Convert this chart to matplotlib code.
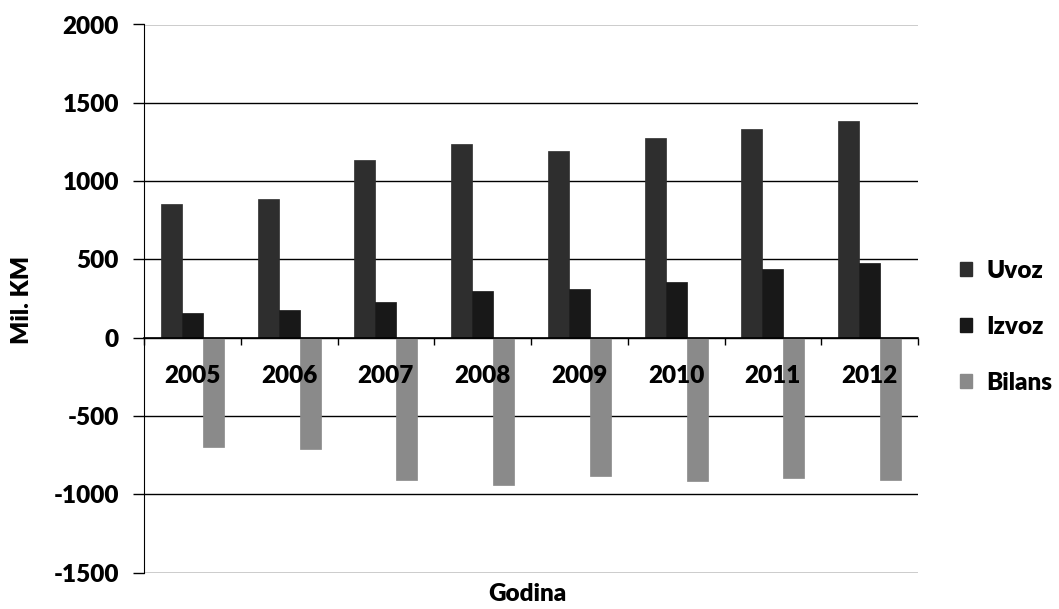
import matplotlib
matplotlib.use("Agg")
import matplotlib.pyplot as plt
import matplotlib.transforms as mtransforms
from matplotlib.patches import Patch
import numpy as np

years = ["2005", "2006", "2007", "2008", "2009", "2010", "2011", "2012"]
uvoz = [854, 888, 1133, 1234, 1194, 1276, 1335, 1386]
izvoz = [156, 177, 226, 297, 312, 359, 437, 475]
bilans = [-698, -711, -907, -937, -882, -917, -898, -911]
series_names = ["Uvoz", "Izvoz", "Bilans"]
yticks = [-1500, -1000, -500, 0, 500, 1000, 1500, 2000]

colors = ["#2e2e2e", "#181818", "#8a8a8a"]

FW = 'heavy'
plt.rcParams['font.family'] = ['Lato', 'DejaVu Sans']
plt.rcParams['font.weight'] = FW

fig = plt.figure(figsize=(10.59, 6.09), dpi=100)
ax = fig.add_axes([144/1059, 1-572.7/609, (918-144)/1059, (572.7-24.5)/609])

x = np.arange(len(years))
w = 0.217
for k, (vals, c) in enumerate(zip([uvoz, izvoz, bilans], colors)):
    ax.bar(x + (k-1)*w, vals, width=w, color=c, edgecolor=c, linewidth=0.5,
           label=series_names[k], zorder=2)

ax.set_xlim(-0.5, len(years)-0.5)
ax.set_ylim(-1500, 2000)
ax.set_yticks(yticks)
ax.set_yticklabels([str(v) for v in yticks], fontsize=17.5, fontweight=FW)
ax.set_axisbelow(True)
ax.yaxis.grid(True, color='black', linewidth=1)
ax.tick_params(axis='y', length=8, width=1, color='black', pad=10)

for s in ['top', 'right']:
    ax.spines[s].set_visible(False)
ax.spines['left'].set_color('black')
ax.spines['bottom'].set_position(('data', 0))
ax.spines['bottom'].set_color('black')
ax.spines['bottom'].set_linewidth(1.2)
ax.spines['bottom'].set_zorder(3)

ax.set_xticks(np.arange(-0.5, len(years), 1.0))
ax.set_xticklabels([])
ax.tick_params(axis='x', length=5, width=1, color='black', direction='out')

trans = mtransforms.offset_copy(ax.transData, fig=fig, x=0, y=-38, units='dots')
for i, yr in enumerate(years):
    ax.text(i, 0, yr, transform=trans, ha='center', va='center',
            fontsize=17.5, fontweight=FW, zorder=5)

fig.text(22/1059, 1-300/609, "Mil. KM", rotation=90, ha='center', va='center',
         fontsize=17.5, fontweight=FW)
fig.text(527/1059, 1-594/609, "Godina", ha='center', va='center',
         fontsize=17.5, fontweight=FW)

handles = [Patch(facecolor=c, edgecolor=c) for c in colors]
fig.legend(handles, series_names, loc='center left',
           bbox_to_anchor=(960/1059, 1-327/609), frameon=False,
           prop={'size': 17.5, 'weight': FW},
           handlelength=0.5, handleheight=0.5, handletextpad=0.6,
           labelspacing=1.4, borderpad=0, borderaxespad=0)

fig.savefig("out.png", dpi=100)
